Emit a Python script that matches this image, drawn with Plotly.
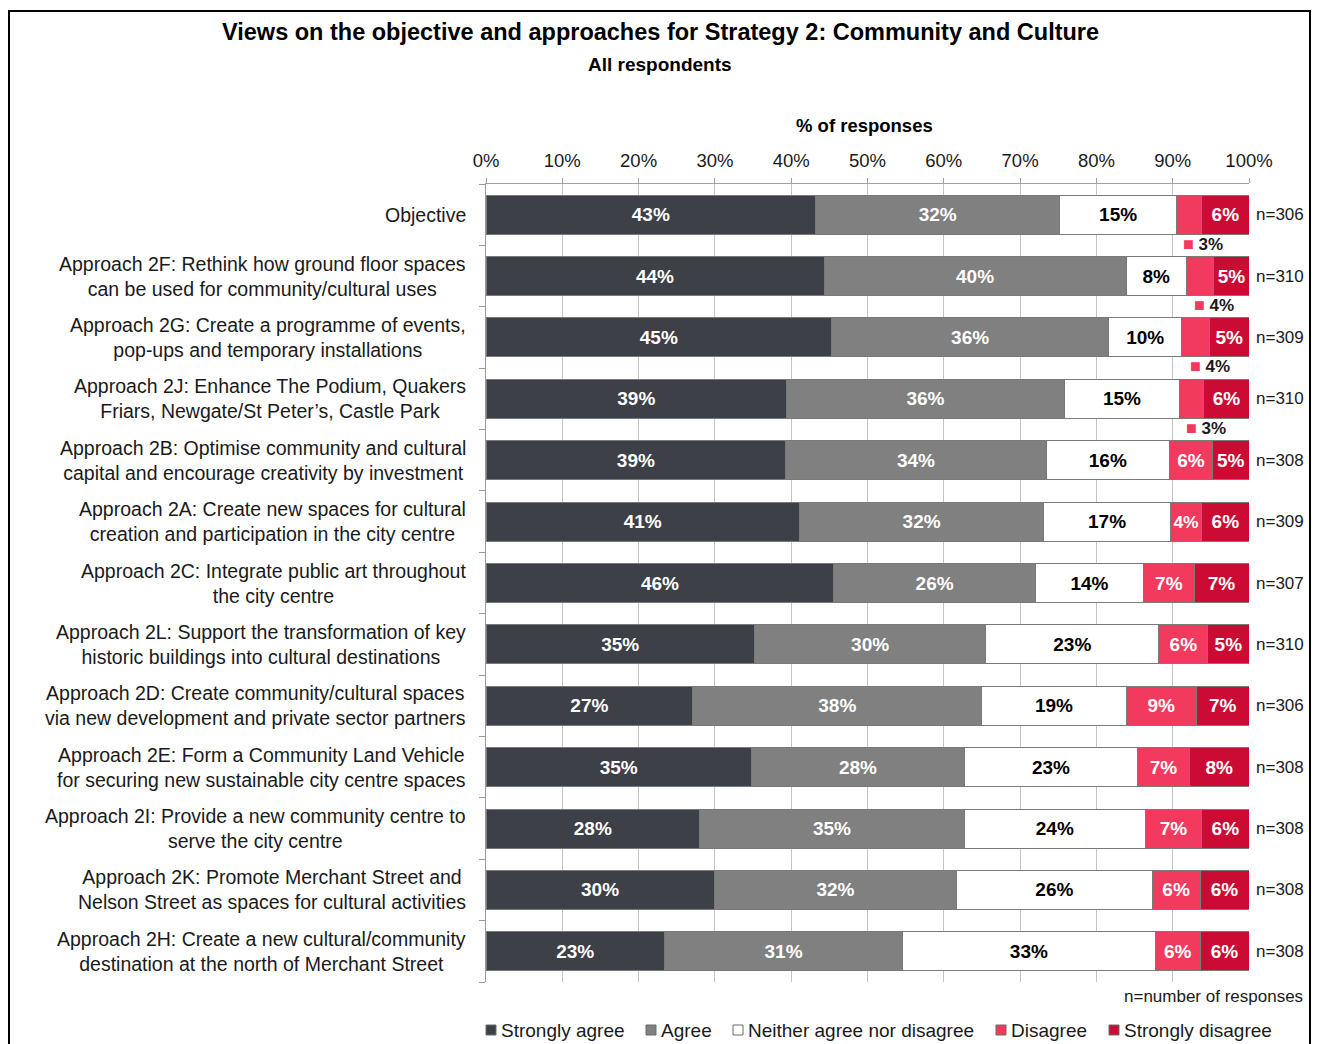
import plotly.graph_objects as go

# ---- data -------------------------------------------------------------
categories = [
    "Objective",
    "Approach 2F: Rethink how ground floor spaces<br>can be used for community/cultural uses",
    "Approach 2G: Create a programme of events,<br>pop-ups and temporary installations",
    "Approach 2J: Enhance The Podium, Quakers<br>Friars, Newgate/St Peter\u2019s, Castle Park",
    "Approach 2B: Optimise community and cultural<br>capital and encourage creativity by investment",
    "Approach 2A: Create new spaces for cultural<br>creation and participation in the city centre",
    "Approach 2C: Integrate public art throughout<br>the city centre",
    "Approach 2L: Support the transformation of key<br>historic buildings into cultural destinations",
    "Approach 2D: Create community/cultural spaces<br>via new development and private sector partners",
    "Approach 2E: Form a Community Land Vehicle<br>for securing new sustainable city centre spaces",
    "Approach 2I: Provide a new community centre to<br>serve the city centre",
    "Approach 2K: Promote Merchant Street and<br>Nelson Street as spaces for cultural activities",
    "Approach 2H: Create a new cultural/community<br>destination at the north of Merchant Street",
]

strongly_agree    = [43.2, 44.3, 45.3, 39.4, 39.3, 41.1, 45.6, 35.2, 27.1, 34.8, 28.0, 29.9, 23.4]
agree             = [32.0, 39.6, 36.3, 36.4, 34.1, 32.0, 26.4, 30.3, 37.9, 27.9, 34.7, 31.8, 31.2]
neither           = [15.3, 7.9, 9.6, 15.1, 16.2, 16.6, 14.2, 22.7, 18.9, 22.7, 23.7, 25.6, 33.1]
disagree          = [3.3, 3.6, 3.6, 3.2, 5.6, 4.1, 6.6, 6.4, 9.2, 6.8, 7.4, 6.3, 5.9]
strongly_disagree = [6.2, 4.6, 5.2, 5.9, 4.8, 6.2, 7.2, 5.4, 6.9, 7.8, 6.2, 6.4, 6.4]

n_responses = [306, 310, 309, 310, 308, 309, 307, 310, 306, 308, 308, 308, 308]

series_names = ["Strongly agree", "Agree", "Neither agree nor disagree",
                "Disagree", "Strongly disagree"]
x_ticks = list(range(0, 101, 10))

# ---- styling ----------------------------------------------------------
FONT = "Liberation Sans, Arial, sans-serif"
W, H = 1317, 1044
ML, MR, MT, MB = 486, 68, 184, 62
colors = ["#3d4047", "#808080", "#ffffff", "#f23a5e", "#cb0b33"]
text_colors = ["white", "white", "black", "white", "white"]
SMALL = 4.0  # segments narrower than this get their label below the bar
legend_left_px = [486, 646, 733, 996, 1109]  # left edge of each key entry


def px_x(px):
    return (px - ML) / (W - ML - MR)


def px_y(py):
    return (H - MB - py) / (H - MT - MB)


series = [strongly_agree, agree, neither, disagree, strongly_disagree]

fig = go.Figure()
for name, vals, col, tcol in zip(series_names, series, colors, text_colors):
    labels = [f"{v:.0f}%" if v >= SMALL else "" for v in vals]
    fig.add_trace(go.Bar(
        y=list(range(len(categories))), x=vals, name=name, orientation="h",
        marker=dict(color=col, line=dict(color="#7a7a7a", width=1)),
        text=labels, textposition="inside", insidetextanchor="middle",
        textangle=0,
        textfont=dict(color=tcol, size=19, family=FONT, weight="bold"),
        hoverinfo="skip", showlegend=False,
    ))

annotations = []
shapes = []

# category labels, centred lines, right-aligned block
for i, cat in enumerate(categories):
    annotations.append(dict(
        xref="paper", yref="y", x=0, y=i, xshift=-18, xanchor="right",
        yanchor="middle", align="center", showarrow=False, text=cat,
        font=dict(size=19.5, family=FONT, color="#1a1a1a"),
    ))

# response counts to the right of each bar
for i, n in enumerate(n_responses):
    annotations.append(dict(
        xref="x", yref="y", x=100, y=i, xshift=5, xanchor="left",
        yanchor="middle", showarrow=False, text=f"n={n}",
        font=dict(size=17, family=FONT, color="#1a1a1a"),
    ))

# small segment labels placed under the bar with a colour key
for s_idx, vals in enumerate(series):
    for i, v in enumerate(vals):
        if v < SMALL:
            start = sum(series[k][i] for k in range(s_idx))
            annotations.append(dict(
                xref="x", yref="y", x=start + v / 2, y=i, yshift=-29,
                xshift=-8, xanchor="left", yanchor="middle", showarrow=False,
                text=(f'<span style="color:{colors[s_idx]};font-size:18px">\u25a0</span>'
                      f' <b>{v:.0f}%</b>'),
                font=dict(size=17, family=FONT, color="#1a1a1a"),
            ))

# key below the chart
for name, col, left in zip(series_names, colors, legend_left_px):
    shapes.append(dict(type="rect", xref="paper", yref="paper",
                       x0=px_x(left), x1=px_x(left + 10),
                       y0=px_y(1035), y1=px_y(1025),
                       fillcolor=col, line=dict(color="#6a6a6a", width=1)))
    annotations.append(dict(
        xref="paper", yref="paper", x=px_x(left + 13), y=px_y(1030),
        xanchor="left", yanchor="middle", showarrow=False, text=name,
        font=dict(size=19, family=FONT, color="#1a1a1a"),
    ))

# titles
annotations += [
    dict(xref="paper", yref="paper", x=px_x(660), y=px_y(32), xanchor="center",
         yanchor="middle", showarrow=False,
         text="<b>Views on the objective and approaches for Strategy 2: Community and Culture</b>",
         font=dict(size=23.5, family=FONT, color="black")),
    dict(xref="paper", yref="paper", x=px_x(660), y=px_y(65), xanchor="center",
         yanchor="middle", showarrow=False, text="<b>All respondents</b>",
         font=dict(size=19, family=FONT, color="black")),
    dict(xref="paper", yref="paper", x=px_x(864), y=px_y(125), xanchor="center",
         yanchor="middle", showarrow=False, text="<b>% of responses</b>",
         font=dict(size=18.5, family=FONT, color="black")),
    dict(xref="paper", yref="paper", x=px_x(1305), y=px_y(996), xanchor="right",
         yanchor="middle", showarrow=False, text="n=number of responses",
         font=dict(size=17, family=FONT, color="#1a1a1a")),
]

# outer frame
shapes.append(dict(type="rect", xref="paper", yref="paper",
                   x0=px_x(9), x1=px_x(1310), y0=px_y(1060), y1=px_y(11),
                   line=dict(color="black", width=2), fillcolor="rgba(0,0,0,0)"))

fig.update_layout(
    width=W, height=H,
    margin=dict(l=ML, r=MR, t=MT, b=MB, autoexpand=False),
    paper_bgcolor="white", plot_bgcolor="white",
    barmode="stack", bargap=0.364,
    font=dict(family=FONT, color="#1a1a1a"),
    annotations=annotations,
    shapes=shapes,
    showlegend=False,
)

fig.update_xaxes(
    range=[0, 100], side="top", tickmode="array", tickvals=x_ticks,
    ticktext=[f"{t}%" for t in x_ticks],
    showgrid=True, gridcolor="#c4c4c4", gridwidth=1,
    ticks="outside", ticklen=5, tickcolor="#a0a0a0", ticklabelstandoff=4,
    tickfont=dict(size=18.5, family=FONT, color="#1a1a1a"),
    showline=True, linecolor="#a0a0a0", linewidth=1,
    zeroline=False, fixedrange=True,
)
fig.update_yaxes(
    range=[len(categories) - 0.5, -0.5], showticklabels=False,
    tickmode="array", tickvals=list(range(len(categories))),
    ticks="", showgrid=False, zeroline=False,
    showline=True, linecolor="#9a9a9a", linewidth=1,
    minor=dict(tickmode="array",
               tickvals=[i + 0.5 for i in range(-1, len(categories))],
               ticks="outside", ticklen=6, tickcolor="#9a9a9a", showgrid=False),
    fixedrange=True,
)

fig.write_html("out.html")
